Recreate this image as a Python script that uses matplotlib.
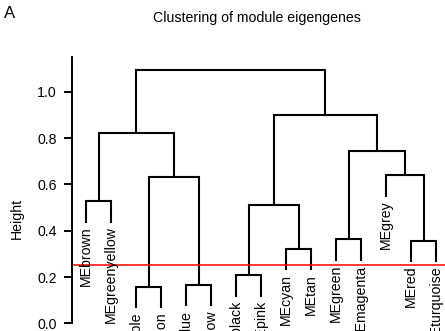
import matplotlib
matplotlib.use("Agg")
import matplotlib.pyplot as plt

plt.rcParams['font.family'] = ['Liberation Sans', 'DejaVu Sans']

# module eigengenes in dendrogram leaf order
labels = ["MEbrown", "MEgreenyellow", "MEpurple", "MEsalmon", "MEblue",
          "MEyellow", "MEblack", "MEpink", "MEcyan", "MEtan", "MEgreen",
          "MEmagenta", "MEgrey", "MEred", "MEturquoise"]

# hclust-style merges: negative = leaf (1-based), positive = earlier merge
merge_a = [-3, -5, -7, -9, -14, -11, 3, -1, 1, -13, 6, 8, 7, 12]
merge_b = [-4, -6, -8, -10, -15, -12, 4, -2, 2, 5, 10, 9, 11, 13]
heights = [0.158, 0.167, 0.209, 0.322, 0.357, 0.363, 0.511, 0.528,
           0.632, 0.639, 0.745, 0.823, 0.898, 1.094]

cut_height = 0.25
hang = 0.1 * (max(heights) - min(heights))

fig = plt.figure(figsize=(4.45, 3.31), dpi=100)
ax = fig.add_axes([72 / 445, -0.1447, 378 / 445, 0.9725])

leaf_x = {i + 1: float(i + 1) for i in range(len(labels))}
node_x = {}
lw = 1.5


def child_pos(c, h):
    # x position and top of the line for a child of a merge at height h
    if c < 0:
        return leaf_x[-c], h - hang
    return node_x[c], heights[c - 1]


for k, (a, b, h) in enumerate(zip(merge_a, merge_b, heights), start=1):
    xa, ya = child_pos(a, h)
    xb, yb = child_pos(b, h)
    ax.plot([xa, xa, xb, xb], [ya, h, h, yb], color="black", lw=lw,
            solid_joinstyle="miter", solid_capstyle="butt")
    node_x[k] = (xa + xb) / 2

# leaf labels hang below the leaf ends
for a, b, h in zip(merge_a, merge_b, heights):
    for c in (a, b):
        if c < 0:
            ax.annotate(labels[-c - 1], (leaf_x[-c], h - hang),
                        xytext=(0, -2.5), textcoords="offset points",
                        rotation=90, ha="center", va="top", fontsize=10.2)

ax.axhline(cut_height, color="red", lw=1.1)

ax.set_xlim(0.44, 15.56)
ax.set_ylim(-0.24, 1.15)
ax.set_xticks([])
ax.set_yticks([0.0, 0.2, 0.4, 0.6, 0.8, 1.0])
ax.set_yticklabels(["0.0", "0.2", "0.4", "0.6", "0.8", "1.0"])
ax.tick_params(axis="y", length=5.8, width=1.4, pad=5, labelsize=10.2)
for side in ("top", "right", "bottom"):
    ax.spines[side].set_visible(False)
ax.spines["left"].set_linewidth(1.4)
ax.spines["left"].set_bounds(0.0, 1.15)
ax.patch.set_visible(False)

fig.text(17 / 445, 1 - 218 / 331, "Height", rotation=90,
         ha="center", va="center", fontsize=10.2)
fig.text(257 / 445, 1 - 18 / 331, "Clustering of module eigengenes",
         ha="center", va="center", fontsize=10.2)
fig.text(4 / 445, 1 - 13 / 331, "A", ha="left", va="center", fontsize=12)

fig.savefig("out.png", dpi=100)
